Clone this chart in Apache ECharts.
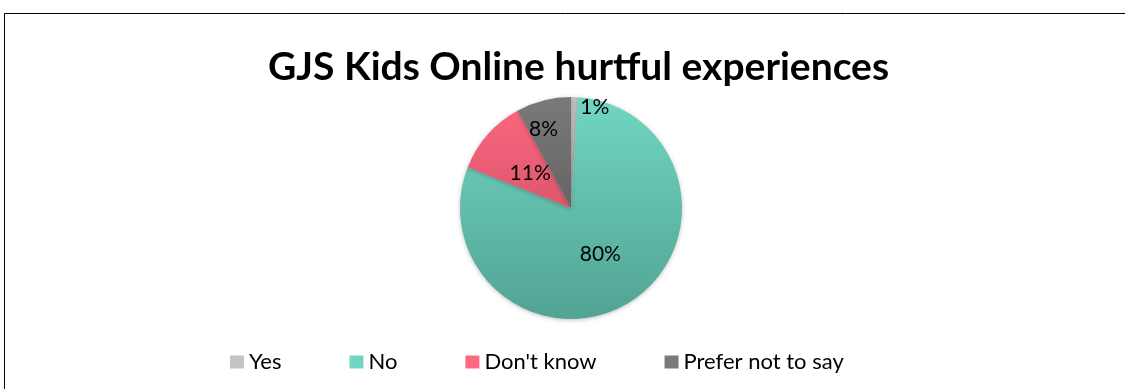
<!DOCTYPE html>
<html><head><meta charset="utf-8">
<script src="https://cdn.jsdelivr.net/npm/echarts@6/dist/echarts.min.js"></script>
<style>html,body{margin:0;padding:0;background:#fff}#c{width:1125px;height:389px}</style>
</head><body><div id="c"></div>
<script>
const categories = ["Yes", "No", "Don't know", "Prefer not to say"];
const values = [1, 80, 11, 8];
const labels = ["1%", "80%", "11%", "8%"];
const title = "GJS Kids Online hurtful experiences";

const grad = (top, bottom) => new echarts.graphic.LinearGradient(0, 97, 0, 319, [
  {offset: 0, color: top}, {offset: 1, color: bottom}], true);
const colors = [grad('#c4c4c4', '#9a9a9a'), grad('#70d6c2', '#52a393'), grad('#ff6880', '#b8465a'), grad('#7a7a7a', '#4e4e4e')];
const labelOffsets = [[22, -42], [-2, -3], [3, 4], [-13, -22]];

const chart = echarts.init(document.getElementById('c'));
const font = 'Lato, "Open Sans", sans-serif';
chart.setOption({
  animation: false,
  title: {text: title, left: 263, top: 43, textStyle: {fontFamily: font, fontWeight: 'bold', fontSize: 39, color: '#000'}},
  legend: {
    data: categories, left: 225, top: 346, itemWidth: 14, itemHeight: 13, itemGap: 68,
    icon: 'rect', textStyle: {fontFamily: font, fontSize: 22, color: '#000'}
  },
  graphic: [{type: 'rect', shape: {x: 4.5, y: 13.5, width: 1200, height: 500}, style: {fill: 'none', stroke: '#000', lineWidth: 1}, silent: true}],
  series: [{
    type: 'pie', center: [571, 208], radius: 111, startAngle: 90, clockwise: true,
    label: {show: true, position: 'inside', fontFamily: font, fontSize: 21, color: '#000', formatter: p => labels[p.dataIndex]},
    labelLine: {show: false},
    itemStyle: {borderWidth: 0, shadowBlur: 4, shadowColor: 'rgba(0,0,0,0.25)', shadowOffsetY: 1},
    data: categories.map((c, i) => ({name: c, value: values[i], itemStyle: {color: colors[i]}, label: {offset: labelOffsets[i]}}))
  }]
});
</script></body></html>
